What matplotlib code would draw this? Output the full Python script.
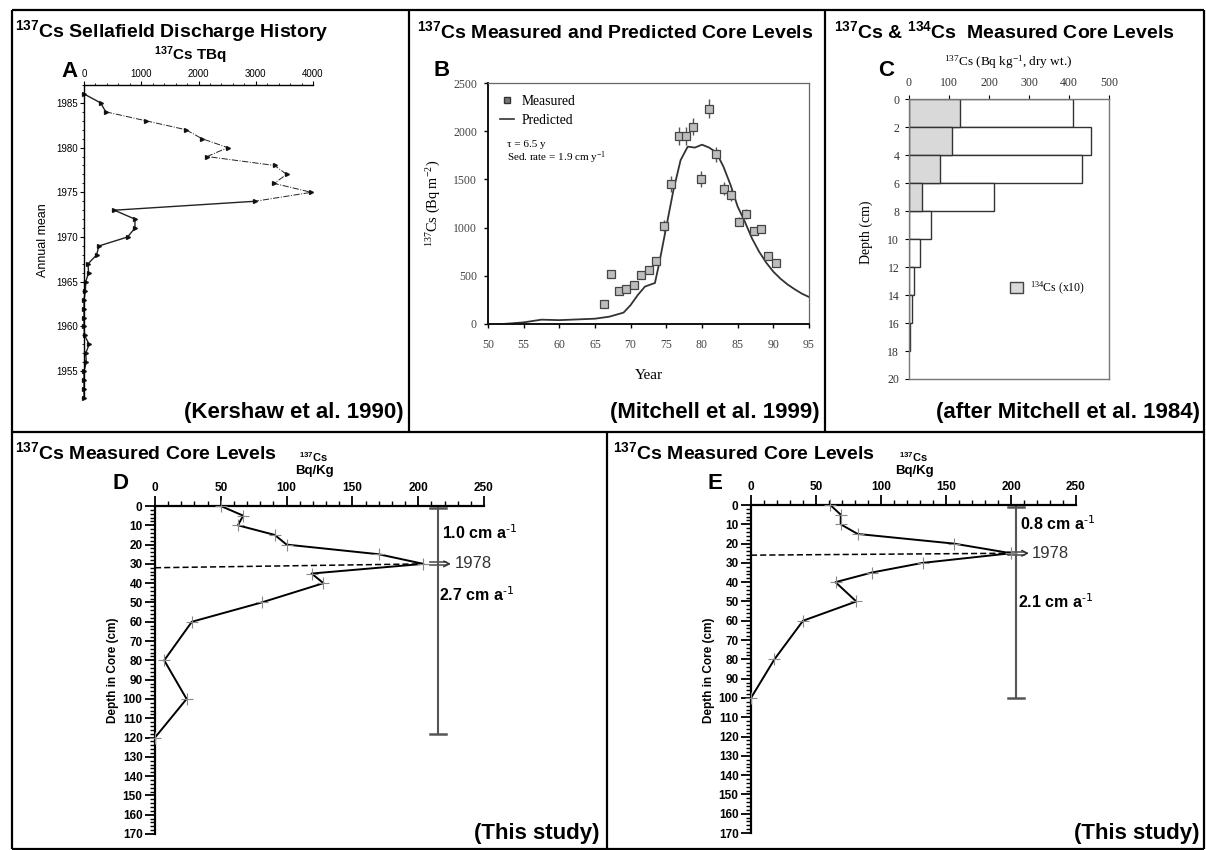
import matplotlib
matplotlib.use('Agg')
import matplotlib.pyplot as plt
from matplotlib.lines import Line2D
from matplotlib.patches import Patch
from matplotlib.ticker import MultipleLocator

plt.rcParams['font.family'] = ['Liberation Sans', 'DejaVu Sans']
plt.rcParams['mathtext.default'] = 'regular'
SERIF = ['Liberation Serif', 'DejaVu Serif']

# --- A: Sellafield 137Cs discharge (TBq, annual mean)
a_years = [1986, 1985, 1984, 1983, 1982, 1981, 1980, 1979, 1978, 1977, 1976, 1975,
           1974, 1973, 1972, 1971, 1970, 1969, 1968, 1967, 1966, 1965, 1964, 1963,
           1962, 1961, 1960, 1959, 1958, 1957, 1956, 1955, 1954, 1953, 1952]
a_tbq = [0, 290, 380, 1080, 1780, 2060, 2510, 2150, 3330, 3540, 3320, 3970,
         2990, 530, 890, 890, 760, 260, 220, 70, 80, 30, 25, 0,
         0, 0, 0, 10, 90, 30, 40, 0, 0, 0, 0]

# --- B: measured vs predicted core inventory (Bq m-2)
b_year = [66.2, 67.2, 68.3, 69.3, 70.4, 71.4, 72.5, 73.5, 74.7, 75.7, 76.8, 77.7,
          78.8, 79.9, 81.0, 82.0, 83.1, 84.1, 85.2, 86.2, 87.3, 88.3, 89.3, 90.4]
b_meas = [210, 515, 346, 367, 405, 505, 557, 654, 1017, 1453, 1951, 1951,
          2048, 1505, 2232, 1761, 1405, 1336, 1062, 1138, 965, 983, 709, 637]
b_err = [20, 20, 20, 20, 20, 20, 25, 40, 60, 80, 90, 90,
         90, 80, 100, 80, 70, 60, 50, 50, 40, 40, 40, 30]
b_pred_year = [52, 53, 55, 57.5, 60, 65, 67, 69, 70, 71, 72, 73, 73.4, 74, 75, 76, 77,
               78, 79, 80, 81, 82, 83, 84, 85, 86, 87, 88, 89, 90, 91, 92, 93, 94, 95]
b_pred = [0, 5, 17, 45, 40, 55, 76, 118, 197, 301, 388, 415, 425, 630, 1010, 1390, 1700,
          1840, 1830, 1860, 1830, 1780, 1633, 1443, 1218, 1062, 889, 751, 637, 543, 470,
          410, 360, 315, 280]

# --- C: 137Cs and 134Cs (x10) by depth slice (Bq/kg dry wt.)
c_top = [0, 2, 4, 6, 8, 10, 12, 14, 16]
c_cs137 = [410, 456, 432, 212, 56, 28, 12, 7, 2]
c_cs134 = [127, 107, 78, 32]

# --- D and E: this study, 137Cs Bq/Kg vs depth (cm)
d_conc = [50, 67, 63, 91, 100, 170, 204, 119, 128, 81, 28, 7, 24, 0]
d_depth = [0, 5, 10, 15, 20, 25, 30, 35, 40, 50, 60, 80, 100, 120]
e_conc = [61, 69, 69, 82, 156, 200, 132, 93, 65, 81, 40, 18, 0]
e_depth = [0, 5, 10, 15, 20, 25, 30, 35, 40, 50, 60, 80, 100]

W, H = 1206, 850
fig = plt.figure(figsize=(W / 100, H / 100), dpi=100)
fig.patch.set_facecolor('white')


def ax_px(x0, y0, x1, y1):
    return fig.add_axes([x0 / W, 1 - y1 / H, (x1 - x0) / W, (y1 - y0) / H])


# background layer in pixel coordinates for frames and titles
bg = ax_px(0, 0, W, H)
bg.set_xlim(0, W)
bg.set_ylim(H, 0)
bg.axis('off')

lw_frame = 1.6
frame = [((12, 1204), (10, 10)), ((12, 1204), (849, 849)), ((12, 12), (10, 849)),
         ((1204, 1204), (10, 849)), ((12, 1204), (432, 432)),
         ((409, 409), (10, 432)), ((825, 825), (10, 432)), ((607, 607), (432, 849))]
for xs, ys in frame:
    bg.plot(xs, ys, color='black', lw=lw_frame, solid_capstyle='butt')

tkw = dict(fontsize=14, fontweight='bold', va='center', ha='left')
bg.text(15, 31, r'$^{137}$Cs Sellafield Discharge History', **tkw)
bg.text(417, 31, r'$^{137}$Cs Measured and Predicted Core Levels', **tkw)
bg.text(834, 31, r'$^{137}$Cs & $^{134}$Cs  Measured Core Levels', **tkw)
bg.text(15, 452, r'$^{137}$Cs Measured Core Levels', **tkw)
bg.text(613, 452, r'$^{137}$Cs Measured Core Levels', **tkw)

skw = dict(fontsize=16, fontweight='bold', va='center', ha='right')
bg.text(404, 412, '(Kershaw et al. 1990)', **skw)
bg.text(820, 412, '(Mitchell et al. 1999)', **skw)
bg.text(1200, 412, '(after Mitchell et al. 1984)', **skw)
bg.text(599, 834, '(This study)', **skw)
bg.text(1200, 834, '(This study)', **skw)

lkw = dict(fontsize=16, fontweight='bold', va='center', ha='center')
bg.text(70, 71, 'A', **lkw)
bg.text(442, 70, 'B', **lkw)
bg.text(886, 70, 'C', **lkw)
bg.text(121, 483, 'D', **lkw)
bg.text(715, 483, 'E', **lkw)

# ---------------- Panel A ----------------
axA = ax_px(84, 85, 313, 398)
axA.set_xlim(0, 4000)
axA.set_ylim(1952, 1987)
for s in ['right', 'bottom']:
    axA.spines[s].set_visible(False)
for s in ['left', 'top']:
    axA.spines[s].set_linewidth(1.0)
axA.xaxis.tick_top()
axA.set_xticks([0, 1000, 2000, 3000, 4000])
axA.xaxis.set_minor_locator(MultipleLocator(200))
axA.set_yticks([1955, 1960, 1965, 1970, 1975, 1980, 1985])
axA.yaxis.set_minor_locator(MultipleLocator(1))
axA.tick_params(which='major', length=3, width=0.8, labelsize=7, pad=1.5)
axA.tick_params(which='minor', length=1.5, width=0.6)
axA.patch.set_alpha(0)
up = [i for i, y in enumerate(a_years) if 1974 <= y <= 1984]
lo_top = [i for i, y in enumerate(a_years) if y >= 1984]
lo_bot = [i for i, y in enumerate(a_years) if y <= 1974]
for idx, ls, lw in [(up, '-.', 0.7), (lo_top, '-', 1.0), (lo_bot, '-', 1.0)]:
    axA.plot([a_tbq[i] for i in idx], [a_years[i] for i in idx],
             color='#222', ls=ls, lw=lw, clip_on=False)
axA.plot(a_tbq, a_years, ls='none', marker='>', ms=2.8, color='#111', clip_on=False)
bg.text(190, 55, r'$^{137}$Cs TBq', fontsize=11, fontweight='bold', ha='center', va='center')
bg.text(43, 240, 'Annual mean', fontsize=9, rotation=90, ha='center', va='center')

# ---------------- Panel B ----------------
axB = ax_px(488, 83, 809, 324)
axB.set_xlim(50, 95)
axB.set_ylim(0, 2500)
axB.set_xticks(range(50, 96, 5))
axB.set_yticks(range(0, 2501, 500))
for s in ['left', 'bottom']:
    axB.spines[s].set_linewidth(1.4)
    axB.spines[s].set_color('#111')
for s in ['right', 'top']:
    axB.spines[s].set_linewidth(0.9)
    axB.spines[s].set_color('#666')
axB.tick_params(length=3, width=1, labelsize=8.5, labelcolor='#444')
axB.tick_params(axis='x', pad=8)
axB.tick_params(axis='y', pad=5)
for lab in axB.get_xticklabels() + axB.get_yticklabels():
    lab.set_family(SERIF)
axB.plot(b_pred_year, b_pred, color='#333', lw=1.3, zorder=2)
axB.errorbar(b_year, b_meas, yerr=b_err, fmt='s', ms=5.5, mfc='#bdbdbd', mec='#444',
             mew=0.9, ecolor='#555', elinewidth=1, capsize=0, zorder=3)
axB.set_xlabel('Year', family=SERIF, fontsize=11)
axB.xaxis.set_label_coords(0.5, -0.185)
axB.set_ylabel(r'$^{137}$Cs (Bq m$^{-2}$)', family=SERIF, fontsize=10.3)
axB.yaxis.set_label_coords(-0.14, 0.5)
hB = [Line2D([], [], marker='s', ls='none', mfc='#777', mec='#333', ms=5),
      Line2D([], [], color='#333', lw=1.2)]
axB.legend(hB, ['Measured', 'Predicted'], loc='upper left', bbox_to_anchor=(0.0, 1.0),
           frameon=False, prop={'family': SERIF, 'size': 9.8}, handlelength=1.0,
           handletextpad=0.6, labelspacing=0.4)
axB.text(0.06, 0.745, r'τ = 6.5 y', transform=axB.transAxes, family=SERIF, fontsize=8,
         va='center')
axB.text(0.06, 0.69, r'Sed. rate = 1.9 cm y$^{-1}$', transform=axB.transAxes,
         family=SERIF, fontsize=8, va='center')

# ---------------- Panel C ----------------
axC = ax_px(909, 99, 1109, 379)
axC.set_xlim(0, 500)
axC.set_ylim(20, 0)
axC.barh(c_top, c_cs137, height=2, align='edge', color='white', edgecolor='#333', lw=1)
axC.barh(c_top[:len(c_cs134)], c_cs134, height=2, align='edge', color='#d9d9d9',
         edgecolor='#333', lw=1)
axC.xaxis.tick_top()
axC.set_xticks(range(0, 501, 100))
axC.set_yticks(range(0, 21, 2))
for s in axC.spines.values():
    s.set_color('#777')
    s.set_linewidth(1)
axC.tick_params(length=3, width=0.8, labelsize=8.5, labelcolor='#333', pad=4)
for lab in axC.get_xticklabels() + axC.get_yticklabels():
    lab.set_family(SERIF)
axC.legend([Patch(facecolor='#d9d9d9', edgecolor='#444')], [r'$^{134}$Cs (x10)'],
           loc='center left', bbox_to_anchor=(0.45, 0.325), frameon=False,
           prop={'family': SERIF, 'size': 8.5}, handlelength=1.1, handleheight=1.1,
           handletextpad=0.6)
bg.text(1008, 62, r'$^{137}$Cs (Bq kg$^{-1}$, dry wt.)', family=SERIF, fontsize=9.5,
        ha='center', va='center')
bg.text(866, 232, 'Depth (cm)', family=SERIF, fontsize=10, rotation=90,
        ha='center', va='center')


# ---------------- Panels D and E ----------------
def core_panel(ax, conc, depth, bar_x, bar_end, peak_d, dash_left, rate1, rate2,
               r1_depth, r2_depth, rx1, rx2, yr_x):
    ax.set_xlim(0, 250)
    ax.set_ylim(170, 0)
    ax.patch.set_alpha(0)
    for s in ['right', 'bottom']:
        ax.spines[s].set_visible(False)
    for s in ['left', 'top']:
        ax.spines[s].set_linewidth(1.6)
    ax.xaxis.tick_top()
    ax.xaxis.set_major_locator(MultipleLocator(50))
    ax.xaxis.set_minor_locator(MultipleLocator(10))
    ax.yaxis.set_major_locator(MultipleLocator(10))
    ax.yaxis.set_minor_locator(MultipleLocator(2))
    ax.tick_params(which='major', length=7, width=1.3, labelsize=8.5, pad=2)
    ax.tick_params(which='minor', length=3.5, width=1)
    for lab in ax.get_xticklabels() + ax.get_yticklabels():
        lab.set_fontweight('bold')
    ax.plot(conc, depth, color='black', lw=1.4, zorder=3, clip_on=False)
    ax.plot(conc, depth, ls='none', marker='+', ms=9, mew=0.8, color='#888', zorder=4,
            clip_on=False)
    pk = conc.index(max(conc))
    ax.plot([0, conc[pk]], [dash_left, depth[pk]], color='black', lw=1.1,
            dashes=(4, 2), zorder=3)
    g = '#555'
    ax.plot([bar_x, bar_x], [1, bar_end], color=g, lw=1.5)
    for d in [1, bar_end]:
        ax.plot([bar_x - 6, bar_x + 6], [d, d], color=g, lw=1.8)
    for d in [peak_d - 0.8, peak_d + 0.8]:
        ax.plot([bar_x - 6, bar_x + 6], [d, d], color=g, lw=1.2)
    ax.annotate('', xy=(bar_x + 12, peak_d), xytext=(bar_x + 5, peak_d),
                arrowprops=dict(arrowstyle='->', color='#333', lw=1.1))
    ax.text(yr_x, peak_d, '1978', fontsize=12, color='#333', va='center', ha='left')
    ax.text(rx1, r1_depth, rate1, fontsize=11.5, fontweight='bold', va='center')
    ax.text(rx2, r2_depth, rate2, fontsize=11.5, fontweight='bold', va='center')


axD = ax_px(155, 506, 484, 834)
core_panel(axD, d_conc, d_depth, 215, 118, 30, 32, r'1.0 cm a$^{\text{-1}}$',
           r'2.7 cm a$^{\text{-1}}$', 14, 46, 218, 216, 228)
axE = ax_px(751, 505, 1076, 833)
core_panel(axE, e_conc, e_depth, 204, 100, 25, 26, r'0.8 cm a$^{\text{-1}}$',
           r'2.1 cm a$^{\text{-1}}$', 9.5, 50, 207, 205, 216)

for cx, x_lab in [(314, 113), (914, 709)]:
    bg.text(cx, 457, r'$^{137}$Cs', fontsize=8, fontweight='bold', ha='center', va='center')
    bg.text(cx, 471, 'Bq/Kg', fontsize=9.5, fontweight='bold', ha='center', va='center')
    bg.text(x_lab, 670, 'Depth in Core (cm)', fontsize=8.5, fontweight='bold', rotation=90,
            ha='center', va='center')

fig.savefig('out.png', dpi=100, facecolor='white')
